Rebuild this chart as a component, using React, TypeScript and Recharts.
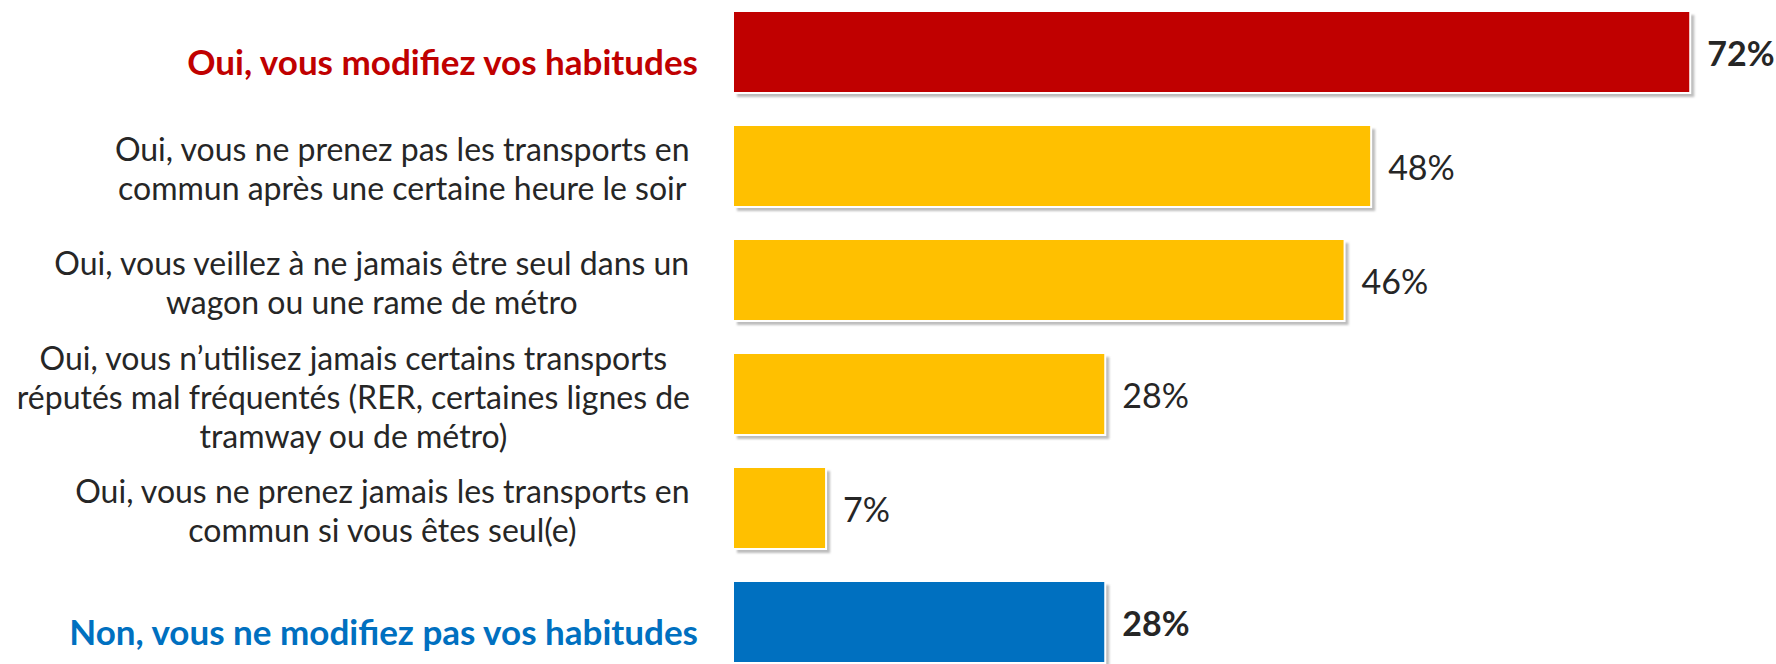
import React from 'react'
import { BarChart, Bar, XAxis, YAxis } from 'recharts'

// answers, values in %
const categories = [
  ['Oui, vous modifiez vos habitudes'],
  ['Oui, vous ne prenez pas les transports en', 'commun après une certaine heure le soir'],
  ['Oui, vous veillez à ne jamais être seul dans un', 'wagon ou une rame de métro'],
  ['Oui, vous n’utilisez jamais certains transports', 'réputés mal fréquentés (RER, certaines lignes de', 'tramway ou de métro)'],
  ['Oui, vous ne prenez jamais les transports en', 'commun si vous êtes seul(e)'],
  ['Non, vous ne modifiez pas vos habitudes'],
]
const values = [72, 48, 46, 28, 7, 28]
const headline = [true, false, false, false, false, true]

const BAR_COLORS = ['#C00000', '#FFC000', '#FFC000', '#FFC000', '#FFC000', '#0070C0']
const LABEL_COLORS = ['#C00000', '#262626', '#262626', '#262626', '#262626', '#0070C0']
const FONT = 'Lato, "Open Sans", sans-serif'
const FONT_SIZE = 32
const BOLD_SIZE = 35
const VALUE_SIZE = 34
const LINE_H = 39

const data = categories.map((lines, i) => ({ name: lines.join(' '), lines, value: values[i], idx: i }))

let ctx: CanvasRenderingContext2D | null = null
function textWidth(s: string) {
  if (!ctx) ctx = document.createElement('canvas').getContext('2d')
  if (!ctx) return s.length * FONT_SIZE * 0.48
  ctx.font = `${FONT_SIZE}px ${FONT}`
  return ctx.measureText(s).width
}

function CategoryTick(props: any) {
  const { x, y, index } = props
  const i = index ?? 0
  const lines = categories[i]
  if (headline[i]) {
    return (
      <text x={x} y={y + 9} textAnchor="end" dominantBaseline="central" fill={LABEL_COLORS[i]}
        style={{ fontFamily: FONT, fontSize: BOLD_SIZE, fontWeight: 700 }}>
        {lines[0]}
      </text>
    )
  }
  // multi-line labels are centred as a block, block right-aligned
  const right = x - 8
  const w = Math.max(...lines.map((l) => textWidth(l)))
  const cx = right - w / 2
  const top = y + 2 - ((lines.length - 1) * LINE_H) / 2
  return (
    <text textAnchor="middle" fill={LABEL_COLORS[i]} style={{ fontFamily: FONT, fontSize: FONT_SIZE }}>
      {lines.map((l, k) => (
        <tspan key={k} x={cx} y={top + k * LINE_H} dominantBaseline="central">{l}</tspan>
      ))}
    </text>
  )
}

function ShadowBar(props: any) {
  const { x, y, width, height, payload } = props
  const i = payload?.idx ?? 0
  return (
    <g>
      <rect x={x + 4} y={y + 4} width={width} height={height} fill="#bdbdbd" filter="url(#barShadow)" />
      <rect x={x} y={y} width={width} height={height} fill={BAR_COLORS[i]} stroke="#ffffff" strokeWidth={2} />
      <text x={x + width + 17} y={y + height / 2} dominantBaseline="central" fill="#262626"
        style={{ fontFamily: FONT, fontSize: VALUE_SIZE, fontWeight: headline[i] ? 700 : 400 }}>
        {`${payload?.value}%`}
      </text>
    </g>
  )
}

export default function App() {
  return (
    <div style={{ position: 'absolute', left: 0, top: 0, width: 1776, height: 664, overflow: 'hidden', background: '#fff' }}>
      <BarChart
        width={1776}
        height={684}
        data={data}
        layout="vertical"
        barCategoryGap={16}
        margin={{ top: 0, right: 6, bottom: 0, left: 0 }}
        style={{ position: 'absolute', top: -5, left: 0 }}
      >
        <defs>
          <filter id="barShadow" x="-5%" y="-10%" width="110%" height="120%">
            <feGaussianBlur stdDeviation="1" />
          </filter>
        </defs>
        <XAxis type="number" domain={[0, 78]} hide />
        <YAxis
          type="category"
          dataKey="name"
          width={733}
          axisLine={false}
          tickLine={false}
          tickSize={0}
          tickMargin={35}
          interval={0}
          tick={<CategoryTick />}
        />
        <Bar dataKey="value" shape={<ShadowBar />} isAnimationActive={false} />
      </BarChart>
    </div>
  )
}
